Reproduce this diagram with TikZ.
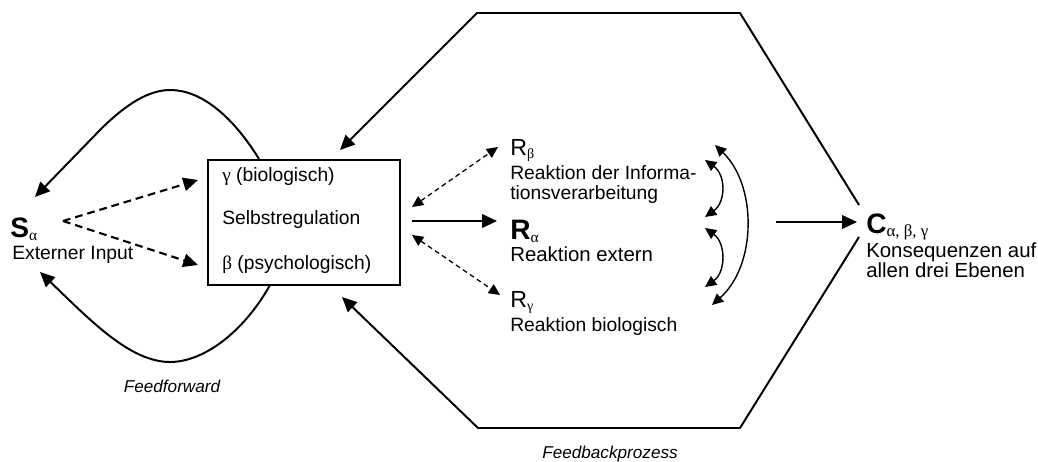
\documentclass[tikz,border=0pt]{standalone}
\usepackage{fontspec}
\setmainfont{Liberation Sans}
\newfontfamily\gr{Liberation Serif}
\usetikzlibrary{arrows.meta}
\newcommand{\gsub}[2][10]{\raisebox{-2.2pt}{\gr\mdseries\upshape\fontsize{#1}{#1}\selectfont #2}}
\tikzset{
  txt/.style={anchor=base west, inner sep=0pt, font=\fontsize{13.7}{16}\selectfont},
  txtl/.style={anchor=base west, inner sep=0pt, font=\fontsize{14.5}{17}\selectfont},
  ital/.style={anchor=base, inner sep=0pt, font=\fontsize{12.2}{14}\selectfont\itshape},
  bighd/.style={-{Triangle[length=10.5pt,width=9.5pt]}},
  smhd/.style={{Triangle[length=8pt,width=7.5pt]}-{Triangle[length=8pt,width=7.5pt]}},
  solid line/.style={line width=1.4pt},
  dashbig/.style={line width=1.5pt, dash pattern=on 5.5pt off 3.5pt},
  dashsm/.style={line width=0.9pt, dash pattern=on 3.5pt off 2.5pt},
  curv/.style={line width=1pt}
}
\begin{document}
\begin{tikzpicture}[x=0.025cm,y=-0.025cm]
\useasboundingbox (0,0) rectangle (1038,461);
% box
\node[draw, line width=1.2pt, minimum width=4.8cm, minimum height=3.125cm, inner sep=0pt] (box) at (304,222.5) {};
\node[txt] (g1) at (222,181) {{\gr γ} (biologisch)};
\node[txt] (g2) at (222,224) {Selbstregulation};
\node[txt] (g3) at (222,269) {{\gr β} (psychologisch)};
% S
\node[anchor=base west, inner sep=0pt, font=\fontsize{20}{20}\selectfont\bfseries] (S) at (10,237) {S\gsub[11]{α}};
\node[txt] (Sd) at (12,259) {Externer Input};
% R beta
\node[anchor=base west, inner sep=0pt, font=\fontsize{16.5}{17}\selectfont] (Rb) at (510,155) {R\gsub{β}};
\node[txt] (Rb1) at (510,179) {Reaktion der Informa-};
\node[txt] (Rb2) at (510,199) {tionsverarbeitung};
% R alpha
\node[anchor=base west, inner sep=0pt, font=\fontsize{20}{20}\selectfont\bfseries] (Ra) at (510,239) {R\gsub[11]{α}};
\node[txtl] (Rad) at (510,261) {Reaktion extern};
% R gamma
\node[anchor=base west, inner sep=0pt, font=\fontsize{16.5}{17}\selectfont] (Rg) at (510,307) {R\gsub{γ}};
\node[txt] (Rgd) at (510,331) {Reaktion biologisch};
% C
\node[anchor=base west, inner sep=0pt, font=\fontsize{20}{20}\selectfont\bfseries] (C) at (866,233) {C\gsub[12]{α, β, γ}};
\node[txtl] (Cd1) at (866,257) {Konsequenzen auf};
\node[txtl] (Cd2) at (866,277) {allen drei Ebenen};
% labels
\node[ital] (ff) at (172,392) {Feedforward};
\node[ital] (fb) at (610,458) {Feedbackprozess};
% coordinates
\coordinate (sOut) at (63,221);
\coordinate (bIn1) at (198,180);
\coordinate (bIn2) at (198,265);
\coordinate (bTop) at (259,159);
\coordinate (sTip1) at (35,197);
\coordinate (bBot) at (270,285);
\coordinate (sTip2) at (40,272);
\coordinate (bR1) at (412,207);
\coordinate (bR2) at (412,235);
\coordinate (bR0) at (412,221);
\coordinate (rbTip) at (498,147);
\coordinate (rgTip) at (500,295);
\coordinate (raTip) at (497,221);
\coordinate (arOut) at (776,222);
\coordinate (cTip) at (857,222);
\coordinate (cT) at (859,205);
\coordinate (hTR) at (740,13);
\coordinate (hTL) at (477,13);
\coordinate (bTopR) at (340,150);
\coordinate (cB) at (859,237);
\coordinate (hBR) at (740,428);
\coordinate (hBL) at (478,428);
\coordinate (bBotR) at (342,297);
% S dashed arrows
\draw[dashbig, bighd] (sOut) -- (bIn1);
\draw[dashbig, bighd] (sOut) -- (bIn2);
% feedforward curves
\draw[solid line, bighd] (bTop) .. controls (240,128) and (208,90) .. (170,90) .. controls (145,90) and (120,110) .. (100,130) -- (sTip1);
\draw[solid line, bighd] (bBot) .. controls (245,330) and (205,362) .. (170,362) .. controls (130,362) and (90,320) .. (sTip2);
% box to R
\draw[solid line, bighd] (bR0) -- (raTip);
\draw[dashsm, smhd] (bR1) -- (rbTip);
\draw[dashsm, smhd] (bR2) -- (rgTip);
% curved interactions
\draw[curv, smhd] (715,145) .. controls (757,185) and (757,265) .. (712,305);
\draw[curv, smhd] (705,160) .. controls (726,175) and (726,202) .. (705,217);
\draw[curv, smhd] (705,228) .. controls (726,243) and (726,272) .. (705,287);
% to C
\draw[solid line, bighd] (arOut) -- (cTip);
% feedback hexagon
\draw[solid line, bighd, line join=miter] (cT) -- (hTR) -- (hTL) -- (bTopR);
\draw[solid line, bighd, line join=miter] (cB) -- (hBR) -- (hBL) -- (bBotR);
\end{tikzpicture}
\end{document}
